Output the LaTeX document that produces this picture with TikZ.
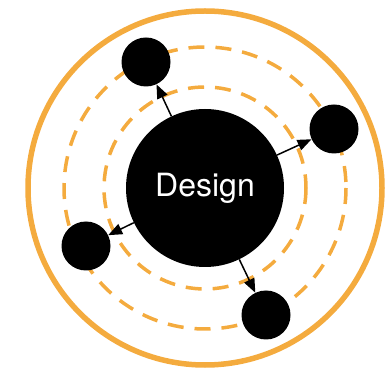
\documentclass[tikz,border=0pt]{standalone}
\usepackage{fontspec}
\setsansfont{TeX Gyre Heros}
\usetikzlibrary{arrows.meta}
\definecolor{ringorange}{RGB}{244,171,62}

\begin{document}
\begin{tikzpicture}[x=1pt,y=-1pt,
  hub/.style={circle,fill=black,inner sep=0pt,minimum size=158pt,text=white,font=\sffamily\fontsize{32}{32}\selectfont},
  leaf/.style={circle,fill=black,inner sep=0pt,minimum size=49pt},
  spoke/.style={-{Triangle[length=14pt,width=11pt]},line width=1.5pt},
  orbit/.style={ringorange,line width=3.5pt,dash pattern=on 16pt off 11pt}]
\useasboundingbox (0,0) rectangle (391,371);
\coordinate (ctr) at (205,188);
\draw[ringorange,line width=5.5pt] (ctr) circle[radius=177];
\draw[orbit] (ctr) circle[radius=141];
\draw[orbit] (ctr) circle[radius=101];
\node[hub] (design) at (ctr) {\raisebox{-2pt}{Design}};
\node[leaf] (n1) at (146,62) {};
\node[leaf] (n2) at (334,129) {};
\node[leaf] (n3) at (86,246) {};
\node[leaf] (n4) at (266,315) {};
\foreach \n in {n1,n2,n3,n4}
  \draw[spoke] (design) -- (\n);
\end{tikzpicture}
\end{document}
